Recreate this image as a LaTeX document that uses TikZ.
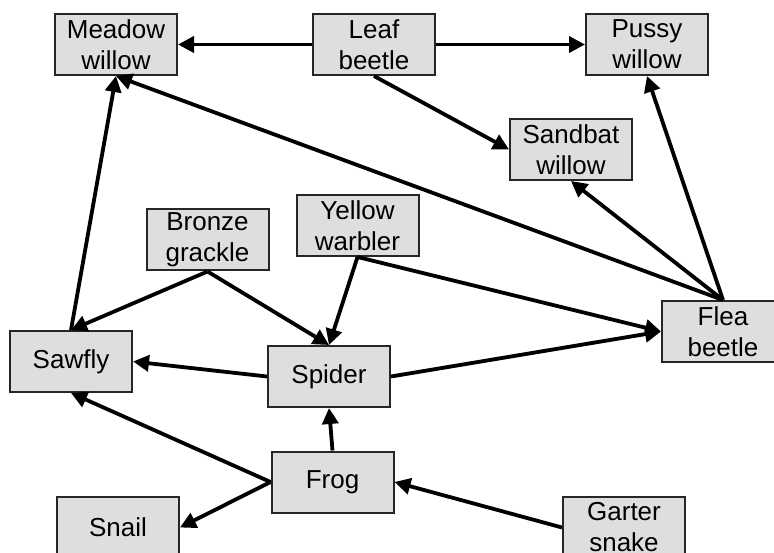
\documentclass[tikz,border=0pt]{standalone}
\usepackage{fontspec}
\setmainfont{Liberation Sans}
\usetikzlibrary{arrows.meta}
\begin{document}
\begin{tikzpicture}[x=1pt,y=-1pt,
  species/.style={draw=black!85, line width=2pt, fill=black!13,
    minimum width=122pt, minimum height=61pt, inner sep=0pt,
    align=center, font=\fontsize{26}{31}\selectfont},
  feeds/.style={-{Triangle[length=16pt,width=16pt]}, line width=3.8pt}]
\useasboundingbox (0,0) rectangle (774,553);
\clip (0,0) rectangle (774,553);

% species
\node[species] (meadow)  at (116,44.5)   {Meadow\\willow};
\node[species] (leaf)    at (374,44.5)   {Leaf\\beetle};
\node[species] (pussy)   at (647,44.5)   {Pussy\\willow};
\node[species] (sandbat) at (571,149.5)  {Sandbat\\willow};
\node[species] (bronze)  at (207.5,240)  {Bronze\\grackle};
\node[species] (yellow)  at (357.5,225.5){Yellow\\warbler};
\node[species] (sawfly)  at (71,361.5)   {Sawfly};
\node[species] (spider)  at (329,376.5)  {Spider};
\node[species] (flea)    at (723,331.5)  {Flea\\beetle};
\node[species] (frog)    at (332.5,482)  {Frog};
\node[species] (snail)   at (118,527.5)  {Snail};
\node[species] (garter)  at (624,527.5)  {Garter\\snake};

% feeding links
\draw[feeds] (leaf.west) -- (meadow.east);
\draw[feeds] (leaf.east) -- (pussy.west);
\draw[feeds] (leaf.south) -- (sandbat.west);
\draw[feeds] (flea.north) -- (meadow.south);
\draw[feeds] (flea.north) -- (pussy.south);
\draw[feeds] (flea.north) -- (sandbat.south);
\draw[feeds] (sawfly.north) -- (meadow.south);
\draw[feeds] (bronze.south) -- (sawfly.north);
\draw[feeds] (bronze.south) -- (spider.north);
\draw[feeds] (yellow.south) -- (spider.north);
\draw[feeds] (yellow.south) -- (flea.west);
\draw[feeds] (spider.east) -- (flea.west);
\draw[feeds] (spider.west) -- (sawfly.east);
\draw[feeds] (frog.north) -- (spider.south);
\draw[feeds] (frog.west) -- (sawfly.south);
\draw[feeds] (frog.west) -- (snail.east);
\draw[feeds] (garter.west) -- (frog.east);
\end{tikzpicture}
\end{document}
